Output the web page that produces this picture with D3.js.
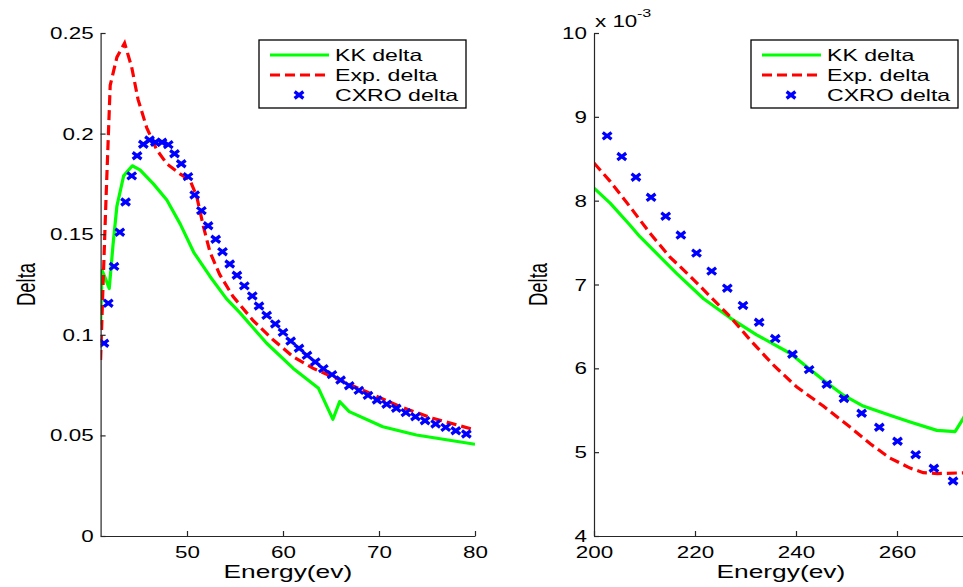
<!DOCTYPE html>
<html>
<head>
<meta charset="utf-8">
<script src="https://cdn.jsdelivr.net/npm/d3@7"></script>
<style>
  body { margin: 0; background: #fff; overflow: hidden; }
  svg { display: block; }
</style>
</head>
<body>
<div id="chart"></div>
<script>
const width = 963;
const height = 587;
const sx = 1.4; // the figure looks stretched sideways, text too

// ---- left panel (low energy) ----
const kkLowE = [41.0, 41.15, 41.5, 41.9, 42.3, 42.7, 43.4, 44.3, 45.1, 46.5, 47.9, 49.3, 50.7, 52.4, 54.1, 55.5, 58.3, 61.07, 63.7, 65.2, 65.9, 66.9, 70.4, 73.9, 80];
const kkLowD = [0.105, 0.132, 0.128, 0.123, 0.145, 0.164, 0.179, 0.184, 0.182, 0.175, 0.167, 0.155, 0.141, 0.129, 0.118, 0.111, 0.0958, 0.0833, 0.0734, 0.058, 0.0668, 0.0618, 0.0543, 0.0502, 0.0456];

const expLowE = [41.0, 41.2, 41.56, 42.0, 42.7, 43.5, 44.24, 44.9, 45.8, 46.84, 47.9, 49.27, 50.3, 51.0, 51.7, 52.4, 53.4, 54.8, 56.9, 59.0, 61.07, 63.15, 65.2, 68.7, 72.2, 75.6, 80];
const expLowD = [0.0875, 0.117, 0.167, 0.224, 0.238, 0.245, 0.233, 0.217, 0.203, 0.192, 0.185, 0.180, 0.177, 0.169, 0.154, 0.141, 0.130, 0.119, 0.107, 0.0974, 0.089, 0.0833, 0.079, 0.0717, 0.0643, 0.0585, 0.0527];

const cxroLowE = [41.35, 41.8, 42.4, 43.0, 43.6, 44.24, 44.8, 45.45, 46.1, 46.7, 47.4, 48.05, 48.7, 49.4, 50.1, 50.8, 51.5, 52.2, 52.99, 53.7, 54.45, 55.2, 55.97, 56.8, 57.5, 58.3, 59.2, 60.0, 60.8, 61.67, 62.5, 63.36, 64.2, 65.1, 66.0, 66.9, 67.9, 68.85, 69.8, 70.8, 71.8, 72.8, 73.8, 74.8, 75.9, 76.95, 78.0, 79.1];
const cxroLowD = [0.0958, 0.1157, 0.134, 0.151, 0.166, 0.179, 0.189, 0.1947, 0.1968, 0.1957, 0.1957, 0.1945, 0.190, 0.185, 0.1786, 0.1695, 0.1617, 0.1542, 0.1475, 0.1413, 0.1352, 0.1296, 0.1243, 0.1193, 0.1143, 0.1097, 0.1054, 0.1012, 0.0969, 0.0933, 0.0898, 0.0865, 0.0832, 0.0802, 0.0775, 0.0747, 0.0724, 0.0699, 0.0676, 0.0655, 0.0635, 0.0613, 0.0593, 0.0573, 0.0557, 0.054, 0.0523, 0.0507];

const lowXTicks = [50, 60, 70, 80];
const lowYTicks = [0, 0.05, 0.1, 0.15, 0.2, 0.25];

// ---- right panel (high energy), delta in units of 1e-3 ----
const kkHighE = [200, 203.2, 207.1, 209.1, 212.4, 216.4, 221.7, 227, 232.2, 238.8, 245.4, 249.4, 253.3, 258.6, 262.6, 267.9, 271.5, 273.1, 275];
const kkHighD = [8.149, 7.97, 7.71, 7.57, 7.37, 7.13, 6.83, 6.60, 6.40, 6.18, 5.86, 5.68, 5.55, 5.44, 5.36, 5.26, 5.245, 5.40, 5.65];

const expHighE = [200, 203.2, 207.1, 211.1, 215.0, 219.0, 222.97, 226.9, 230.9, 235.5, 240.1, 245.4, 250.7, 254.7, 258.6, 262.6, 265.2, 268, 274];
const expHighD = [8.45, 8.23, 7.93, 7.61, 7.33, 7.10, 6.86, 6.62, 6.34, 6.04, 5.78, 5.55, 5.30, 5.10, 4.93, 4.81, 4.755, 4.745, 4.755];

const cxroHighE = [202.6, 205.5, 208.3, 211.3, 214.2, 217.2, 220.3, 223.3, 226.4, 229.5, 232.7, 235.9, 239.3, 242.6, 246.1, 249.5, 253.0, 256.5, 260.1, 263.7, 267.3, 271.1];
const cxroHighD = [8.773, 8.526, 8.28, 8.04, 7.815, 7.59, 7.374, 7.16, 6.956, 6.75, 6.55, 6.355, 6.168, 5.985, 5.81, 5.64, 5.464, 5.297, 5.13, 4.97, 4.808, 4.656];

const highXTicks = [200, 220, 240, 260];
const highYTicks = [4, 5, 6, 7, 8, 9, 10];

const legendNames = ["KK delta", "Exp. delta", "CXRO delta"];

const green = "#00ff00", red = "#ff0000", blue = "#0000ff";
const axisColor = "#262626";
const font = "'Liberation Sans', Arial, Helvetica, sans-serif";

const svg = d3.select("#chart").append("svg")
  .attr("width", width)
  .attr("height", height);

function zip(a, b) { return a.map(function(v, i) { return [v, b[i]]; }); }

// x marker, a bit wider than tall, drawn bold
const markPath = "M-4.4,-3.4L4.4,3.4M-4.4,3.4L4.4,-3.4";
const markWidth = 3.3;

function drawPanel(p) {
  const x = d3.scaleLinear().domain(p.xDomain).range([p.left, p.right]);
  const y = d3.scaleLinear().domain(p.yDomain).range([p.bottom, p.top]);

  const clipId = "clip" + p.id;
  svg.append("clipPath").attr("id", clipId)
    .append("rect")
    .attr("x", p.left).attr("y", p.top - 10)
    .attr("width", p.right - p.left).attr("height", p.bottom - p.top + 10);

  const g = svg.append("g");
  const plot = g.append("g").attr("clip-path", "url(#" + clipId + ")");

  const line = d3.line()
    .x(function(d) { return x(d[0]); })
    .y(function(d) { return y(d[1]); });

  plot.append("path")
    .datum(zip(p.kkE, p.kkD))
    .attr("d", line)
    .attr("fill", "none")
    .attr("stroke", green)
    .attr("stroke-width", 3.2)
    .attr("stroke-linejoin", "round");

  plot.append("path")
    .datum(zip(p.expE, p.expD))
    .attr("d", line)
    .attr("fill", "none")
    .attr("stroke", red)
    .attr("stroke-width", 3.2)
    .attr("stroke-dasharray", "10,5");

  plot.selectAll("path.mk")
    .data(zip(p.cxroE, p.cxroD))
    .enter()
    .append("path")
    .attr("class", "mk")
    .attr("transform", function(d) { return "translate(" + x(d[0]) + "," + y(d[1]) + ")"; })
    .attr("d", markPath)
    .attr("stroke", blue)
    .attr("stroke-width", markWidth)
    .attr("fill", "none");

  // axes, ticks pointing inward like matlab
  const xAxis = g.append("g")
    .attr("transform", "translate(0," + p.bottom + ")")
    .call(d3.axisBottom(x).tickValues(p.xTicks).tickSizeInner(-5).tickSizeOuter(0).tickFormat(d3.format("d")));
  const yAxis = g.append("g")
    .attr("transform", "translate(" + p.left + ",0)")
    .call(d3.axisLeft(y).tickValues(p.yTicks).tickSizeInner(-5).tickSizeOuter(0).tickFormat(p.yFormat));

  [xAxis, yAxis].forEach(function(a) {
    a.select(".domain").attr("stroke", axisColor).attr("stroke-width", 1.2);
    a.selectAll(".tick line").attr("stroke", axisColor).attr("stroke-width", 1.2);
    a.selectAll(".tick text")
      .attr("fill", "#000")
      .style("font-family", font)
      .style("font-size", "16px");
  });
  xAxis.selectAll(".tick text")
    .attr("y", null).attr("dy", null)
    .attr("transform", "translate(0,21.5) scale(" + sx + ",1)");
  yAxis.selectAll(".tick text")
    .attr("x", null).attr("dy", null)
    .attr("transform", "translate(-7,5.5) scale(" + sx + ",1)");

  // axis titles
  g.append("text")
    .attr("transform", "translate(" + ((p.left + p.visRight) / 2) + ",578) scale(" + sx + ",1)")
    .attr("text-anchor", "middle")
    .style("font-family", font)
    .style("font-size", "18.8px")
    .text("Energy(ev)");
  g.append("text")
    .attr("transform", "translate(" + p.ylabX + "," + ((p.top + p.bottom) / 2) + ") scale(" + sx + ",1) rotate(-90)")
    .attr("text-anchor", "middle")
    .style("font-family", font)
    .style("font-size", "18.5px")
    .text("Delta");

  // legend
  const lg = g.append("g").attr("transform", "translate(" + p.legX + ",40)");
  lg.append("rect")
    .attr("width", 207).attr("height", 68)
    .attr("fill", "#fff")
    .attr("stroke", "#000")
    .attr("stroke-width", 1.3);
  const rows = [15, 35, 55];
  lg.append("line").attr("x1", 11).attr("x2", 70).attr("y1", rows[0]).attr("y2", rows[0])
    .attr("stroke", green).attr("stroke-width", 3.2);
  lg.append("line").attr("x1", 11).attr("x2", 70).attr("y1", rows[1]).attr("y2", rows[1])
    .attr("stroke", red).attr("stroke-width", 3.2).attr("stroke-dasharray", "10,5");
  lg.append("path").attr("transform", "translate(40," + rows[2] + ")")
    .attr("d", markPath).attr("stroke", blue).attr("stroke-width", markWidth).attr("fill", "none");
  lg.selectAll("text.lt")
    .data(legendNames)
    .enter()
    .append("text")
    .attr("class", "lt")
    .attr("transform", function(d, i) { return "translate(76," + (rows[i] + 6) + ") scale(" + sx + ",1)"; })
    .style("font-family", font)
    .style("font-size", "16.5px")
    .text(function(d) { return d; });

  return g;
}

drawPanel({
  id: "L", left: 100.6, right: 475, visRight: 475, top: 33, bottom: 536,
  xDomain: [41, 80], yDomain: [0, 0.25],
  xTicks: lowXTicks, yTicks: lowYTicks, yFormat: function(d) { return d3.format("")(d); },
  kkE: kkLowE, kkD: kkLowD, expE: expLowE, expD: expLowD, cxroE: cxroLowE, cxroD: cxroLowD,
  ylabX: 35, legX: 259
});

const gR = drawPanel({
  id: "R", left: 594, right: 967.7, visRight: 967.7, top: 33, bottom: 536,
  xDomain: [200, 274], yDomain: [4, 10],
  xTicks: highXTicks, yTicks: highYTicks, yFormat: d3.format("d"),
  kkE: kkHighE, kkD: kkHighD, expE: expHighE, expD: expHighD, cxroE: cxroHighE, cxroD: cxroHighD,
  ylabX: 547, legX: 751
});

// exponent note above the right axis
gR.append("text")
  .attr("transform", "translate(595,27) scale(" + sx + ",1)")
  .style("font-family", font)
  .style("font-size", "16px")
  .text("x 10");
gR.append("text")
  .attr("transform", "translate(637,17) scale(" + sx + ",1)")
  .style("font-family", font)
  .style("font-size", "11.5px")
  .text("-3");
</script>
</body>
</html>
